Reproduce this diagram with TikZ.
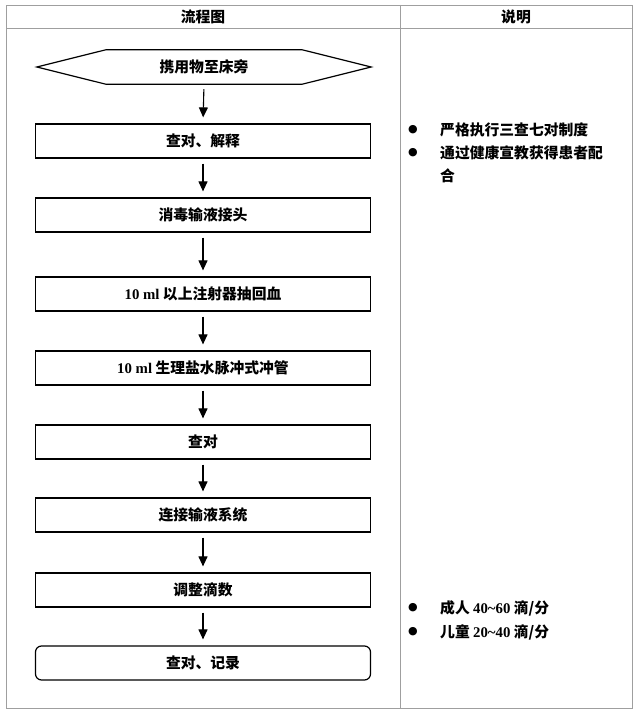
\documentclass[tikz,border=0pt]{standalone}
\usepackage{fontspec}
\setmainfont{Noto Sans CJK SC}
\newfontfamily\latfont{Liberation Serif}
\newfontfamily\symfont{DejaVu Sans}
\newcommand{\lat}[1]{{\latfont\bfseries #1}}
\usetikzlibrary{arrows.meta}
\tikzset{
    txt/.style={font=\fontsize{14.8pt}{17pt}\selectfont\bfseries},
    flowbox/.style={txt,draw,line width=1.2pt,minimum width=335pt,minimum height=34pt,inner sep=0pt},
    endbox/.style={flowbox,rounded corners=6pt},
    startbox/.style={txt,minimum width=334pt,minimum height=34pt,inner sep=0pt},
    flowarrow/.style={-{Triangle[length=10pt,width=9pt]},line width=1.1pt,shorten <=5pt,shorten >=6pt},
    grid/.style={draw=gray!75,line width=0.8pt},
    note/.style={txt,anchor=west,inner sep=0pt},
    dot/.style={font=\symfont\fontsize{11pt}{11pt}\selectfont,inner sep=0pt}
}
\begin{document}
\begin{tikzpicture}[x=1pt,y=-1pt]
    \useasboundingbox (0,0) rectangle (638,714);
    % table
    \draw[grid] (6,5) rectangle (632,708);
    \draw[grid] (6,28) -- (632,28);
    \draw[grid] (400,5) -- (400,708);
    \node[txt] (head1) at (203,17) {流程图};
    \node[txt] (head2) at (516,17) {说明};
    % flow
    \node[startbox] (s0) at (204,67) {携用物至床旁};
    \draw[line width=1.2pt] (s0.west) -- ([xshift=69pt]s0.north west) -- ([xshift=-69pt]s0.north east)
        -- (s0.east) -- ([xshift=-69pt]s0.south east) -- ([xshift=69pt]s0.south west) -- cycle;
    \node[flowbox] (s1) at (203,141) {查对、解释};
    \node[flowbox] (s2) at (203,215) {消毒输液接头};
    \node[flowbox] (s3) at (203,294) {\lat{10 ml} 以上注射器抽回血};
    \node[flowbox] (s4) at (203,368) {\lat{10 ml} 生理盐水脉冲式冲管};
    \node[flowbox] (s5) at (203,442) {查对};
    \node[flowbox] (s6) at (203,515) {连接输液系统};
    \node[flowbox] (s7) at (203,590) {调整滴数};
    \node[endbox] (s8) at (203,663) {查对、记录};
    \foreach \a/\b in {s0/s1,s1/s2,s2/s3,s3/s4,s4/s5,s5/s6,s6/s7,s7/s8}
        \draw[flowarrow] (\a.south) -- (\b.north);
    % notes
    \node[dot] (d1) at (413,130) {●};
    \node[note] (n1) at (440,130) {严格执行三查七对制度};
    \node[dot] (d2) at (413,153) {●};
    \node[note] (n2) at (440,153) {通过健康宣教获得患者配};
    \node[note] (n3) at (440,176) {合};
    \node[dot] (d3) at (413,608) {●};
    \node[note] (n4) at (440,608) {成人 \lat{40\char`~60} 滴/分};
    \node[dot] (d4) at (413,632) {●};
    \node[note] (n5) at (440,632) {儿童 \lat{20\char`~40} 滴/分};
\end{tikzpicture}
\end{document}
